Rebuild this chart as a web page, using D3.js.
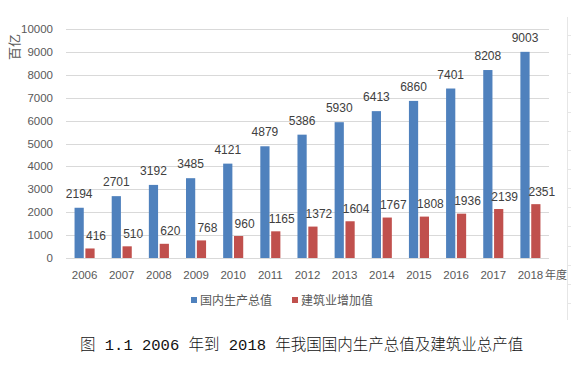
<!DOCTYPE html>
<html>
<head>
<meta charset="utf-8">
<script src="https://cdn.jsdelivr.net/npm/d3@7"></script>
<style>
body { margin: 0; background: #fff; }
text { font-family: "Liberation Sans", "Noto Sans CJK SC", sans-serif; }
</style>
</head>
<body>
<script>
var years = ["2006", "2007", "2008", "2009", "2010", "2011", "2012", "2013", "2014", "2015", "2016", "2017", "2018"];
var gdp = [2194, 2701, 3192, 3485, 4121, 4879, 5386, 5930, 6413, 6860, 7401, 8208, 9003];
var construction = [416, 510, 620, 768, 960, 1165, 1372, 1604, 1767, 1808, 1936, 2139, 2351];
var seriesNames = ["国内生产总值", "建筑业增加值"];
var colors = ["#4F81BD", "#C0504D"];
var yTicks = [0, 1000, 2000, 3000, 4000, 5000, 6000, 7000, 8000, 9000, 10000];

w = 583;
h = 387;
var svg = d3.select("body")
	.append("svg")
	.attr("width", w)
	.attr("height", h);

var xScale = d3.scaleBand()
	.domain(years)
	.range([66, 549])
	.paddingInner(0.46)
	.paddingOuter(0.23);
var subScale = d3.scaleBand()
	.domain([0, 1])
	.range([0, xScale.bandwidth()])
	.paddingInner(0.15);
var yScale = d3.scaleLinear()
	.domain([0, 10000])
	.range([258, 29]);

// gridlines
svg.selectAll("line.grid")
	.data(yTicks)
	.enter()
	.append("line")
	.attr("class", "grid")
	.attr("x1", 66)
	.attr("x2", 549)
	.attr("y1", function(d) { return Math.round(yScale(d)) + 0.5; })
	.attr("y2", function(d) { return Math.round(yScale(d)) + 0.5; })
	.attr("stroke", "#d9d9d9")
	.attr("stroke-width", 1);

// y tick labels
svg.selectAll("text.ytick")
	.data(yTicks)
	.enter()
	.append("text")
	.attr("class", "ytick")
	.attr("x", 53)
	.attr("y", function(d) { return yScale(d) + 4; })
	.attr("text-anchor", "end")
	.attr("font-size", "11.5px")
	.attr("fill", "#595959")
	.text(function(d) { return d; });

svg.append("text")
	.attr("transform", "translate(19,47) rotate(-90)")
	.attr("text-anchor", "middle")
	.attr("font-size", "13px")
	.attr("fill", "#595959")
	.style("font-family", "Noto Sans CJK SC")
	.text("百亿");

var series = [gdp, construction];

series.forEach(function(values, s) {
	svg.selectAll("rect.s" + s)
		.data(values)
		.enter()
		.append("rect")
		.attr("class", "s" + s)
		.attr("x", function(d, i) { return xScale(years[i]) + subScale(s); })
		.attr("width", subScale.bandwidth())
		.attr("y", function(d) { return yScale(d); })
		.attr("height", function(d) { return yScale(0) - yScale(d); })
		.attr("fill", colors[s]);

	svg.selectAll("text.v" + s)
		.data(values)
		.enter()
		.append("text")
		.attr("class", "v" + s)
		.attr("x", function(d, i) {
			return xScale(years[i]) + subScale(s) + subScale.bandwidth() / 2 + (s === 1 ? 6 : 0);
		})
		.attr("y", function(d) { return yScale(d) - (s === 0 ? 10 : 8.5); })
		.attr("text-anchor", "middle")
		.attr("font-size", "12px")
		.attr("fill", "#404040")
		.text(function(d) { return d; });
});

// x labels
svg.selectAll("text.xtick")
	.data(years)
	.enter()
	.append("text")
	.attr("class", "xtick")
	.attr("x", function(d) { return xScale(d) + xScale.bandwidth() / 2; })
	.attr("y", 279)
	.attr("text-anchor", "middle")
	.attr("font-size", "11.5px")
	.attr("fill", "#595959")
	.text(function(d) { return d; });

svg.append("text")
	.attr("x", 545)
	.attr("y", 279)
	.attr("font-size", "11px")
	.attr("fill", "#595959")
	.style("font-family", "Noto Sans CJK SC")
	.text("年度");

// legend
var legendX = [191, 292];
seriesNames.forEach(function(name, s) {
	svg.append("rect")
		.attr("x", legendX[s])
		.attr("y", 297)
		.attr("width", 6)
		.attr("height", 6)
		.attr("fill", colors[s]);
	svg.append("text")
		.attr("x", legendX[s] + 9)
		.attr("y", 305)
		.attr("font-size", "12px")
		.attr("fill", "#595959")
		.style("font-family", "Noto Sans CJK SC")
		.text(name);
});

// page ruler on the right
var rulerScale = d3.scaleLinear().domain([0, 14]).range([35, 303]);
svg.append("line")
	.attr("x1", 567.5).attr("x2", 567.5)
	.attr("y1", 17).attr("y2", 320)
	.attr("stroke", "#e6e6e6");
svg.selectAll("line.ruler")
	.data(d3.range(15))
	.enter()
	.append("line")
	.attr("class", "ruler")
	.attr("x1", 568).attr("x2", 571)
	.attr("y1", function(d) { return Math.round(rulerScale(d)) + 0.5; })
	.attr("y2", function(d) { return Math.round(rulerScale(d)) + 0.5; })
	.attr("stroke", "#e6e6e6");

// caption
svg.append("text")
	.attr("x", 80)
	.attr("y", 350)
	.attr("font-size", "15.5px")
	.attr("font-weight", 300)
	.attr("fill", "#111")
	.style("font-family", "'Liberation Mono', 'Noto Sans CJK SC'")
	.attr("xml:space", "preserve")
	.text("图 1.1 2006 年到 2018 年我国国内生产总值及建筑业总产值");
</script>
</body>
</html>
